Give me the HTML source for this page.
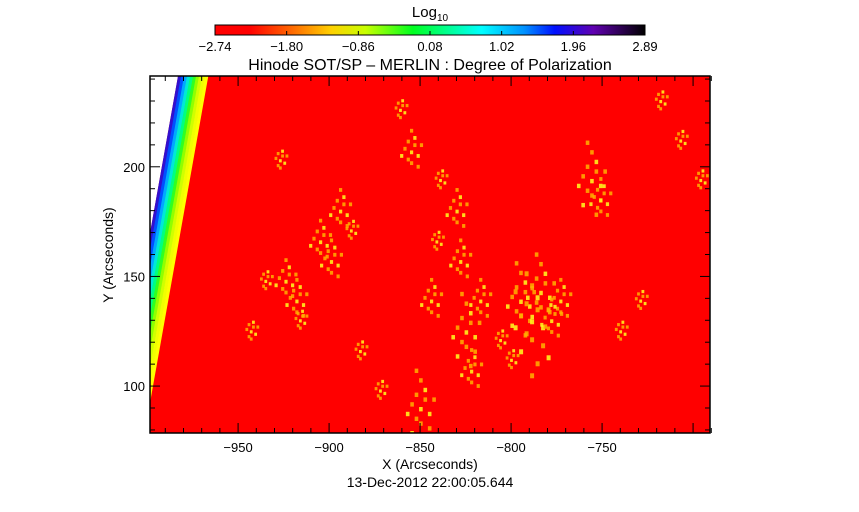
<!DOCTYPE html>
<html><head><meta charset="utf-8"><style>
html,body{margin:0;padding:0;background:#fff;}
svg{display:block;font-family:"Liberation Sans",sans-serif;}
</style></head><body>
<svg id="chart" width="859" height="512" viewBox="0 0 859 512" xmlns="http://www.w3.org/2000/svg">
<defs>
<linearGradient id="cbar" x1="0" x2="1" y1="0" y2="0">
<stop offset="0" stop-color="#ff0000"/><stop offset="0.08" stop-color="#ff0000"/>
<stop offset="0.18" stop-color="#ff6a00"/><stop offset="0.27" stop-color="#ffd000"/>
<stop offset="0.35" stop-color="#c8ff00"/><stop offset="0.46" stop-color="#00ff20"/>
<stop offset="0.62" stop-color="#00ffff"/><stop offset="0.72" stop-color="#0090ff"/>
<stop offset="0.79" stop-color="#0010ff"/><stop offset="0.88" stop-color="#6000b0"/>
<stop offset="1" stop-color="#000000"/>
</linearGradient>
<clipPath id="plotclip"><rect x="150" y="76" width="560" height="357"/></clipPath>
</defs>
<text x="430" y="17" font-size="15" text-anchor="middle">Log<tspan font-size="10" dy="4">10</tspan></text>
<rect x="215" y="25" width="430" height="10" fill="url(#cbar)" stroke="#000" stroke-width="1"/>
<g id="cbticks"></g>
<text x="430" y="70" font-size="16" text-anchor="middle">Hinode SOT/SP – MERLIN : Degree of Polarization</text>
<g id="plot" clip-path="url(#plotclip)"></g>
<rect x="150" y="76" width="560" height="357" fill="none" stroke="#000" stroke-width="1.5"/>
<g id="axes"></g>
<text x="430" y="469" font-size="14" text-anchor="middle">X (Arcseconds)</text>
<text x="430" y="487" font-size="14" text-anchor="middle">13-Dec-2012 22:00:05.644</text>
<text x="113" y="255" font-size="14" text-anchor="middle" transform="rotate(-90 113 255)">Y (Arcseconds)</text>
</svg>
<script>
const cbLabels = ["-2.74","-1.80","-0.86","0.08","1.02","1.96","2.89"];
const xTicks = [-950,-900,-850,-800,-750];
const yTicks = [100,150,200];
const xDomain = [-998.4, -690.7];
const yDomain = [78.6, 241.4];
// active-region brightenings (arcsec x, arcsec y, size)
const blobX = [-927,-924,-918,-916,-905,-899,-894,-888,-872,-844,-841,-839,-828,-825,-822,-817,-795,-789,-784,-773,-756,-751,-729,-740,-861,-855,-707,-696,-718,-943,-935,-883,-778,-806,-850,-830,-800];
const blobY = [203,148,139,130,166,157,180,171,98,139,166,194,157,125,107,139,139,130,143,139,194,185,139,125,226,207,212,194,230,125,148,116,130,121,90,180,112];
const blobS = [2,3,3,2,3,3,3,2,2,3,2,2,3,4,3,3,4,5,4,3,4,3,2,2,2,3,2,2,2,2,2,2,3,2,4,3,2];
// limb (inner edge of band) position in arcsec at top and bottom of field
const limbTopX = -983; const limbBotX = -1018;

const NS="http://www.w3.org/2000/svg";
const X0=150,X1=710,Y0=76,Y1=433;
const sx=v=>X0+(v-xDomain[0])/(xDomain[1]-xDomain[0])*(X1-X0);
const sy=v=>Y1-(v-yDomain[0])/(yDomain[1]-yDomain[0])*(Y1-Y0);
function mk(tag,attrs,parent){const e=document.createElementNS(NS,tag);for(const k in attrs)e.setAttribute(k,attrs[k]);parent.appendChild(e);return e;}

const cb=document.getElementById('cbticks');
cbLabels.forEach((l,i)=>{
  const x=215+i*430/(cbLabels.length-1);
  const ln=mk('line',{x1:x,x2:x,y1:35,y2:31,stroke:'#000'},cb);
  
  
  const t=mk('text',{x:x,y:51,'font-size':13,'text-anchor':'middle'},cb);
  t.textContent=l.replace('-','\u2212');
  
  
});

const plot=document.getElementById('plot');
const bg=mk('rect',{x:X0,y:Y0,width:X1-X0,height:Y1-Y0,fill:'#ff0000'},plot);


const xt=sx(limbTopX), xb=sx(limbBotX);
const off=mk('polygon',{points:`${X0-80},${Y0} ${xt},${Y0} ${xb},${Y1} ${X0-80},${Y1}`,fill:'#ffffff'},plot);


const bandCols=['#3010d0','#0050ff','#00a8ff','#00e8d8','#00ff80','#30ff20','#90ff00','#d0ff00','#f0ff00','#ffff00'];
bandCols.forEach((c,i)=>{
  const a=i*3, b=a+3.3;
  const p=mk('polygon',{points:`${xt+a},${Y0} ${xt+b},${Y0} ${xb+b},${Y1} ${xb+a},${Y1}`,fill:c},plot);
  
  
});
const pat=[[0,0],[1,-2],[-1,2],[2,1],[-2,-1],[0,3],[1,-4],[-1,-3],[3,-2],[-3,1],[0,-6],[2,4],[-2,5],[1,7],[-1,-8],[3,6],[-3,-5],[0,9],[2,-7],[-2,8]];
blobX.forEach((bx,i)=>{
  const cx=sx(bx), cy=sy(blobY[i]), s=blobS[i];
  const g=mk('g',{},plot);
  
  
  const n=Math.min(pat.length,3+s*3);
  for(let k=0;k<n;k++){
    const [dx,dy]=pat[k];
    mk('rect',{x:cx+dx*s*1.1-1,y:cy+dy*s*1.2-1,width:2+s*0.4,height:2+s*0.6,fill:k%3==0?'#ffff20':'#ffb000',opacity:0.85},g);
  }
});

const ax=document.getElementById('axes');
for(let v=-990;v<=-690;v+=10){
  const x=sx(v); const maj=v%50===0; const L=maj?10:5;
  const t1=mk('line',{x1:x,x2:x,y1:Y1,y2:Y1-L,stroke:'#000'},ax);
  
  
  const t2=mk('line',{x1:x,x2:x,y1:Y0,y2:Y0+L,stroke:'#000'},ax);
  
  
}
for(let v=80;v<=240;v+=10){
  const y=sy(v); const maj=v%50===0; const L=maj?10:5;
  const t1=mk('line',{x1:X0,x2:X0+L,y1:y,y2:y,stroke:'#000'},ax);
  
  
  const t2=mk('line',{x1:X1,x2:X1-L,y1:y,y2:y,stroke:'#000'},ax);
  
  
}
xTicks.forEach(v=>{
  const t=mk('text',{x:sx(v),y:452,'font-size':13,'text-anchor':'middle'},ax);
  t.textContent=String(v).replace('-','\u2212');
  
  
});
yTicks.forEach(v=>{
  const t=mk('text',{x:145,y:sy(v)+5,'font-size':13,'text-anchor':'end'},ax);
  t.textContent=String(v);
  
  
});
</script>
</body></html>
